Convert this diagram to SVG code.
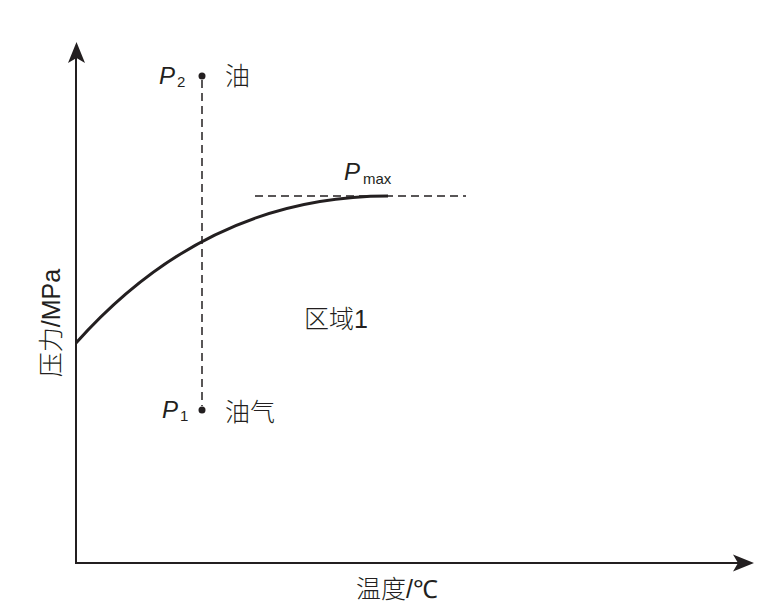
<svg xmlns="http://www.w3.org/2000/svg" width="782" height="611" viewBox="0 0 782 611">
<defs>
<style>
.ax{stroke:#231f20;stroke-width:2;fill:none}
.dash{stroke:#231f20;stroke-width:1.5;stroke-dasharray:8 5;fill:none}
.cv{stroke:#231f20;stroke-width:3;fill:none}
.c{font-family:"Noto Sans CJK SC",sans-serif;fill:#231f20;font-size:25px;font-weight:300}
.l{font-family:"Liberation Sans",sans-serif;font-weight:400}
.i{font-family:"Liberation Sans",sans-serif;font-style:italic;fill:#231f20;font-size:24px}
.s{font-family:"Liberation Sans",sans-serif;fill:#231f20;font-size:15px}
</style>
</defs>
<rect width="782" height="611" fill="#fff"/>
<g id="axes">
<line class="ax" x1="76" y1="563" x2="76" y2="56"/>
<line class="ax" x1="75" y1="563" x2="740" y2="563"/>
<path d="M76.5,42 L85,63 L76.5,58 L68,63 Z" fill="#231f20"/>
<path d="M754,563 L733,554.5 L738,563 L733,571.5 Z" fill="#231f20"/>
<text class="c" transform="translate(60,323) rotate(-90)" text-anchor="middle">压力<tspan class="l">/MPa</tspan></text>
<text class="c" x="397" y="598" text-anchor="middle">温度<tspan class="l">/℃</tspan></text>
</g>
<g id="connectors">
<line class="dash" x1="255" y1="196" x2="466" y2="196"/>
<line class="dash" x1="202" y1="80" x2="202" y2="406"/>
</g>
<g id="curve">
<path class="cv" d="M76,343 C150,260 250,196 388,196"/>
</g>
<g id="p2">
<circle cx="202" cy="76" r="3.5" fill="#231f20"/>
<text class="i" x="159" y="84">P</text>
<text class="s" x="177" y="87">2</text>
<text class="c" x="225" y="85">油</text>
</g>
<g id="p1">
<circle cx="202" cy="410" r="3.5" fill="#231f20"/>
<text class="i" x="162" y="418">P</text>
<text class="s" x="180" y="421">1</text>
<text class="c" x="225" y="421">油气</text>
</g>
<g id="pmax">
<text class="i" x="344" y="180">P</text>
<text class="s" x="363" y="184">max</text>
</g>
<g id="region1">
<text class="c" x="304" y="328">区域<tspan class="l">1</tspan></text>
</g>
</svg>
